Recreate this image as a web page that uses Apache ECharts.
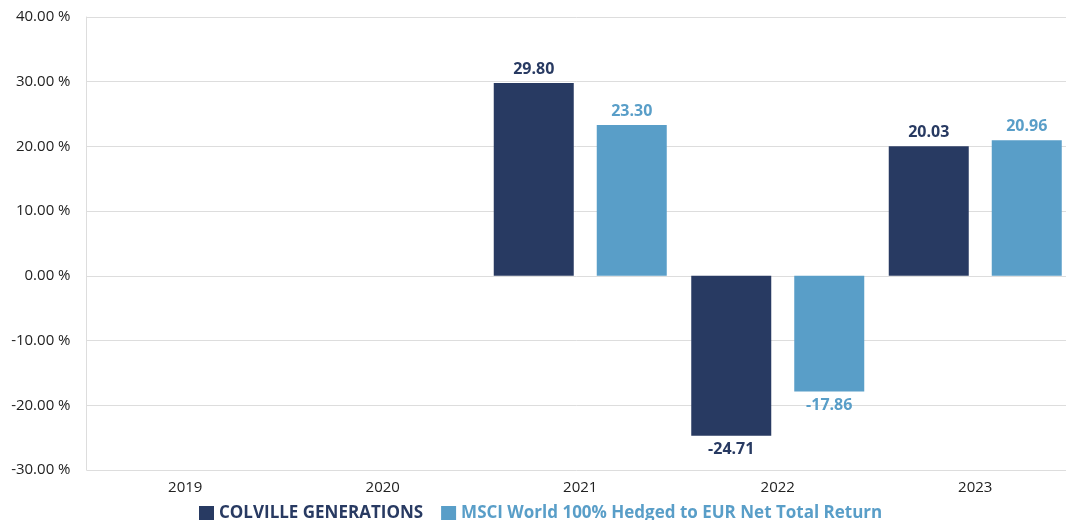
<!DOCTYPE html>
<html>
<head>
<meta charset="utf-8">
<script src="https://cdn.jsdelivr.net/npm/echarts@6/dist/echarts.min.js"></script>
<style>html,body{margin:0;padding:0;background:#fff}#c{width:1066px;height:520px}</style>
</head>
<body>
<div id="c"></div>
<script>
const categories = ['2019', '2020', '2021', '2022', '2023'];
const colvilleValues = [null, null, 29.80, -24.71, 20.03];
const msciValues = [null, null, 23.30, -17.86, 20.96];
const seriesNames = ['COLVILLE GENERATIONS', 'MSCI World 100% Hedged to EUR Net Total Return'];
const darkColor = '#283a62';
const lightColor = '#599ec8';

const chart = echarts.init(document.getElementById('c'));
const labelCfg = (color) => ({
  show: true,
  position: 'outside',
  distance: 6,
  color: color,
  fontFamily: 'Open Sans',
  fontWeight: 'bold',
  fontSize: 16,
  formatter: (p) => p.value == null ? '' : p.value.toFixed(2)
});
chart.setOption({
  animation: false,
  grid: { left: 86.5, top: 17, right: -8, bottom: 50, containLabel: false, outerBoundsMode: 'none' },
  legend: {
    left: 194,
    top: 500,
    itemWidth: 15,
    itemHeight: 15,
    itemGap: 18,
    icon: 'rect',
    data: [
      { name: seriesNames[0], textStyle: { color: darkColor } },
      { name: seriesNames[1], textStyle: { color: lightColor } }
    ],
    textStyle: { fontFamily: 'Open Sans', fontWeight: 'bold', fontSize: 17 }
  },
  xAxis: {
    type: 'category',
    data: categories,
    axisLine: { show: false },
    axisTick: { show: false },
    axisLabel: { color: '#222', fontFamily: 'Open Sans', fontSize: 15, margin: 10 }
  },
  yAxis: {
    type: 'value',
    min: -30,
    max: 40,
    interval: 10,
    axisLine: { show: true, lineStyle: { color: '#dddddd', width: 1 } },
    splitLine: { lineStyle: { color: '#dddddd', width: 1 } },
    axisLabel: {
      color: '#222', fontFamily: 'Open Sans', fontSize: 15, margin: 16,
      formatter: (v) => v.toFixed(2) + ' %'
    }
  },
  series: [
    {
      name: seriesNames[0], type: 'bar', data: colvilleValues,
      barWidth: 80, barGap: '28.75%',
      itemStyle: { color: darkColor },
      label: labelCfg(darkColor)
    },
    {
      name: seriesNames[1], type: 'bar', data: msciValues,
      barWidth: 70, barGap: '28.75%',
      itemStyle: { color: lightColor },
      label: labelCfg(lightColor)
    }
  ]
});
</script>
</body>
</html>
